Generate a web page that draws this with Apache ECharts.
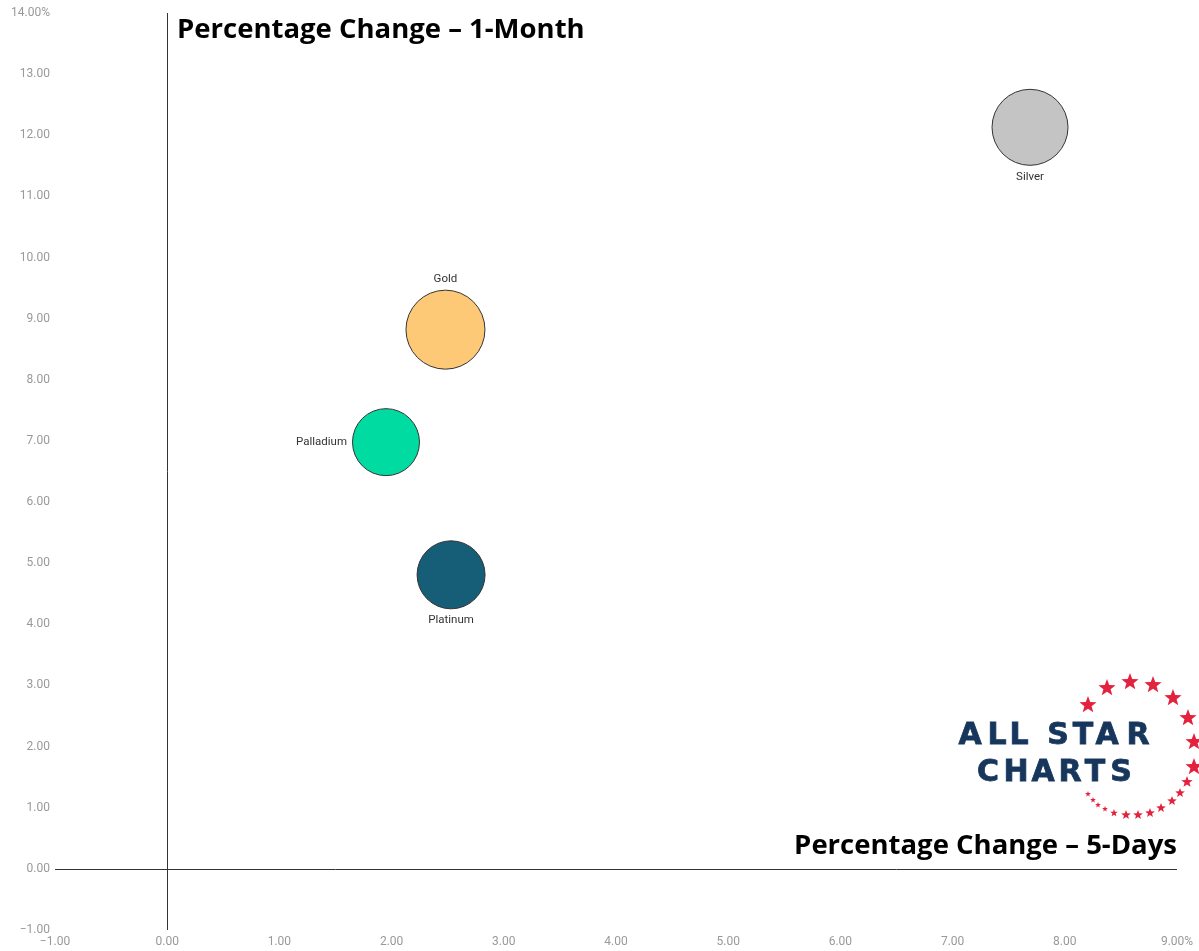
<!DOCTYPE html>
<html>
<head>
<meta charset="utf-8">
<script src="https://cdn.jsdelivr.net/npm/echarts@6/dist/echarts.min.js"></script>
<style>
  html, body { margin: 0; padding: 0; background: #fff; }
  #chart { width: 1199px; height: 951px; }
</style>
</head>
<body>
<div id="chart"></div>
<script>
// metals: 5-day change (x) vs 1-month change (y), in %
const metals = ['Silver', 'Gold', 'Palladium', 'Platinum']
const change5d = [7.69, 2.48, 1.95, 2.53]
const change1m = [12.13, 8.82, 6.98, 4.81]
const bubbleSize = [76, 79, 67, 68]

const xTicks = {min: -1, max: 9, step: 1}
const yTicks = {min: -1, max: 14, step: 1}

const metalStyle = {
  Silver:    {color: '#c4c4c4', pos: 'bottom'},
  Gold:      {color: '#fdc976', pos: 'top'},
  Palladium: {color: '#00dba2', pos: 'left'},
  Platinum:  {color: '#165d78', pos: 'bottom'}
}

const fmt = (max) => (v) => {
  let s = Math.abs(v).toFixed(2)
  if (v < 0) s = '\u2212' + s
  if (v === max) s += '%'
  return s
}

// logo stars, [x, y, outer radius]
const stars = [
  [1088, 705, 9], [1107, 688, 9], [1130, 682, 9], [1153, 685, 9], [1173, 698, 9],
  [1188, 718, 9], [1194, 742, 9], [1194, 767, 9], [1187, 782, 6], [1180, 793, 5],
  [1172, 801, 5], [1161, 808, 5], [1150, 813, 5], [1138, 815, 5], [1126, 815, 5],
  [1114, 813, 4], [1105, 809, 3], [1098, 805, 3], [1093, 800, 3], [1088, 794, 3]
]
function starPoints(cx, cy, r) {
  const pts = []
  for (let i = 0; i < 10; i++) {
    const a = -Math.PI / 2 + i * Math.PI / 5
    const rr = i % 2 ? r * 0.42 : r
    pts.push([cx + rr * Math.cos(a), cy + rr * Math.sin(a)])
  }
  return pts
}
const logoLetters = [
  ['A', 970, 736], ['L', 997, 736], ['L', 1019, 736], ['S', 1058, 736], ['T', 1083, 736], ['A', 1107, 736], ['R', 1138, 736],
  ['C', 988, 773], ['H', 1016, 773], ['A', 1043, 773], ['R', 1070, 773], ['T', 1095, 773], ['S', 1121, 773]
]

const graphics = []
stars.forEach(s => graphics.push({
  type: 'polygon', silent: true,
  shape: {points: starPoints(s[0], s[1], s[2])},
  style: {fill: '#e3223d'}
}))
logoLetters.forEach(l => graphics.push({
  type: 'text', silent: true, x: l[1], y: l[2],
  style: {text: l[0], fill: '#17365c', stroke: '#17365c', lineWidth: 0.8,
    font: 'bold 30px "DejaVu Sans"', textAlign: 'center', textVerticalAlign: 'middle'}
}))

const myChart = echarts.init(document.getElementById('chart'))
const axisLabel = {color: '#999', fontSize: 12, fontFamily: 'Roboto'}

myChart.setOption({
  animation: false,
  title: [
    {text: 'Percentage Change \u2013 1-Month', left: 172, top: 11,
      textStyle: {fontFamily: '"Open Sans"', fontWeight: 'bold', fontSize: 27.5, color: '#000'}},
    {text: 'Percentage Change \u2013 5-Days', right: 17, top: 827,
      textStyle: {fontFamily: '"Open Sans"', fontWeight: 'bold', fontSize: 27.5, color: '#000'}}
  ],
  grid: {left: 55, right: 22, top: 13, bottom: 21},
  xAxis: {
    type: 'value', min: xTicks.min, max: xTicks.max, interval: xTicks.step,
    axisLine: {show: false}, axisTick: {show: false}, splitLine: {show: false},
    axisLabel: {...axisLabel, margin: 6, formatter: fmt(xTicks.max)}
  },
  yAxis: {
    type: 'value', min: yTicks.min, max: yTicks.max, interval: yTicks.step,
    axisLine: {show: false}, axisTick: {show: false}, splitLine: {show: false},
    axisLabel: {...axisLabel, margin: 5, formatter: fmt(yTicks.max)}
  },
  graphic: graphics,
  series: [{
    type: 'scatter',
    symbolSize: (d) => d[2],
    data: metals.map((m, i) => ({
      name: m,
      value: [change5d[i], change1m[i], bubbleSize[i]],
      itemStyle: {color: metalStyle[m].color},
      label: {position: metalStyle[m].pos}
    })),
    itemStyle: {borderColor: '#333', borderWidth: 1, opacity: 1},
    label: {show: true, formatter: '{b}', color: '#333', fontSize: 11.5, fontFamily: 'Roboto', distance: 5},
    markLine: {
      silent: true, symbol: 'none', label: {show: false},
      lineStyle: {color: '#333', width: 1, type: 'solid'},
      data: [{xAxis: 0}, {yAxis: 0}]
    }
  }]
})
</script>
</body>
</html>
